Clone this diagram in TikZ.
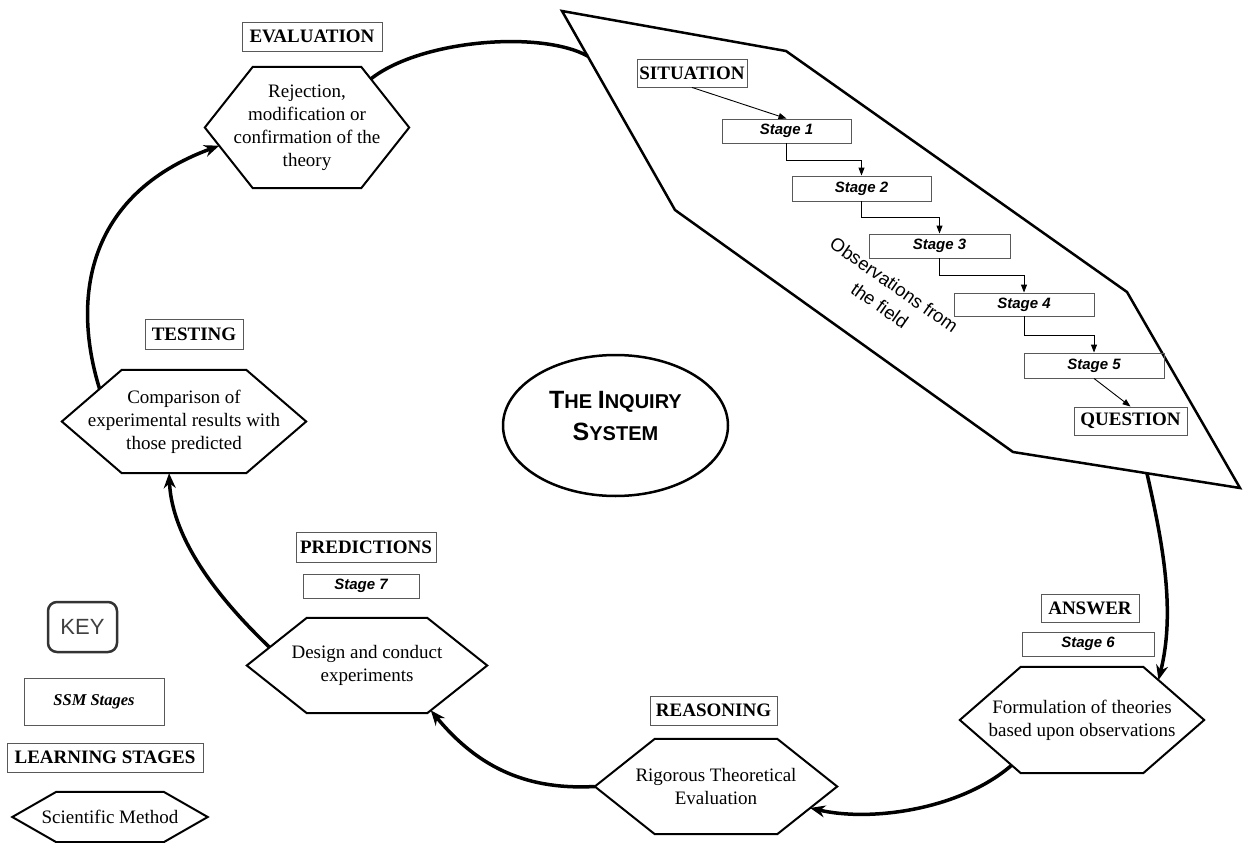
\documentclass[tikz,border=0pt]{standalone}
\usepackage{fontspec}
\setmainfont{Liberation Serif}
\newfontfamily\arialfont{Liberation Sans}
\usetikzlibrary{shapes.geometric,arrows.meta,calc}

\tikzset{
  hexbody/.style={draw=none, inner sep=0pt, align=center, font=\fontsize{19}{23}\selectfont},
  hexline/.style={line width=2pt, line join=miter},
  lbl/.style={draw=black!65, line width=0.9pt, inner sep=0pt, font=\bfseries\fontsize{19}{21}\selectfont},
  stagebox/.style={draw=black!65, line width=0.9pt, inner sep=0pt, font=\arialfont\bfseries\itshape\fontsize{15}{17}\selectfont},
  flow/.style={line width=3.5pt, -{Stealth[length=15pt,width=12pt]}},
  flowplain/.style={line width=3.5pt},
  stepline/.style={line width=0.9pt, -{Triangle[length=8pt,width=6pt]}},
  ssmline/.style={line width=2.5pt, line join=miter},
}

% hexagon: name, centre, width, height, corner inset, text
\newcommand\hexnode[6]{%
  \node[hexbody, minimum width=#3, minimum height=#4] (#1) at (#2) {#6};
  \draw[hexline] (#1.west) -- ($(#1.north west)+(#5,0)$) coordinate (#1-tl)
     -- ($(#1.north east)+(-#5,0)$) coordinate (#1-tr) -- (#1.east)
     -- ($(#1.south east)+(-#5,0)$) coordinate (#1-br)
     -- ($(#1.south west)+(#5,0)$) coordinate (#1-bl) -- cycle;}

\newcommand\capT[1]{{\fontsize{25}{32}\selectfont #1}}

\begin{document}
\begin{tikzpicture}[x=1pt, y=-1pt]
\fill[white] (0,0) rectangle (1243,843);
\useasboundingbox (0,0) rectangle (1243,843);

% soft systems stages panel
\coordinate (ssm-a) at (562,11);
\coordinate (ssm-b) at (786,51);
\coordinate (ssm-c) at (1127,292);
\coordinate (ssm-d) at (1240,488);
\coordinate (ssm-e) at (1013,452);
\coordinate (ssm-f) at (675,210);
\draw[ssmline] (ssm-a) -- (ssm-b) -- (ssm-c) -- (ssm-d) -- (ssm-e) -- (ssm-f) -- cycle;
\coordinate (ssm-in) at ($(ssm-a)!0.226!(ssm-f)$);
\coordinate (ssm-out) at ($(ssm-d)!0.41!(ssm-e)$);

\node[lbl, minimum width=110, minimum height=28] (sit) at (692,73) {SITUATION};
\node[stagebox, minimum width=129, minimum height=24] (s1) at (786.5,131) {Stage 1};
\node[stagebox, minimum width=139, minimum height=25] (s2) at (861.5,188.5) {Stage 2};
\node[stagebox, minimum width=141, minimum height=24] (s3) at (939.5,246) {Stage 3};
\node[stagebox, minimum width=140, minimum height=23] (s4) at (1024,304.5) {Stage 4};
\node[stagebox, minimum width=140, minimum height=25] (s5) at (1094,365.5) {Stage 5};
\node[lbl, minimum width=113, minimum height=28] (qu) at (1130.5,421) {QUESTION};

\draw[stepline] (sit.south) -- (s1.north);
\draw[stepline] (s1.south) -- ++(0,17) -| (s2.north);
\draw[stepline] (s2.south) -- ++(0,16) -| (s3.north);
\draw[stepline] (s3.south) -- ++(0,17) -| (s4.north);
\draw[stepline] (s4.south) -- ++(0,19) -| (s5.north);
\draw[stepline] (s5.south) -- (qu.north);

\node[rotate=-35, align=center, inner sep=0pt, font=\arialfont\fontsize{18.5}{25}\selectfont] (obs) at (887,295) {Observations from\\the field};

% scientific method cycle
\node[lbl, minimum width=140, minimum height=29] (evl) at (312,36.5) {EVALUATION};
\hexnode{ev}{307,127.5}{204}{121}{48}{Rejection,\\modification or\\confirmation of the\\theory}

\node[lbl, minimum width=98, minimum height=30] (tel) at (194,334) {TESTING};
\hexnode{te}{184,421.5}{244}{103}{60}{Comparison of\\experimental results with\\those predicted}

\node[lbl, minimum width=140, minimum height=30] (prl) at (366,547) {PREDICTIONS};
\node[stagebox, minimum width=116, minimum height=24] (s7) at (361,586) {Stage 7};
\hexnode{pr}{367,665.5}{240}{95}{60}{Design and conduct\\experiments}

\node[lbl, minimum width=127, minimum height=29] (rel) at (713.5,710.5) {REASONING};
\hexnode{re}{716,786.5}{242}{95}{60}{Rigorous Theoretical\\Evaluation}

\node[lbl, minimum width=98, minimum height=28] (anl) at (1090,608) {ANSWER};
\node[stagebox, minimum width=132, minimum height=24] (s6) at (1088,644) {Stage 6};
\hexnode{an}{1082,720}{244}{106}{61}{Formulation of theories\\based upon observations}

% centre
\node[ellipse, draw, line width=2.5pt, minimum width=225, minimum height=141, inner sep=0pt] (sys) at (615.5,425.5) {};
\node[align=center, inner sep=0pt, font=\arialfont\bfseries\fontsize{20}{32}\selectfont] (systext) at (615.5,416) {\capT{T}HE \capT{I}NQUIRY\\\capT{S}YSTEM};

% cycle connectors
\draw[flowplain] ($(ev-tr)!0.2!(ev.east)$) .. controls (420,40) and (540,30) .. (ssm-in);
\draw[flow] (ssm-out) .. controls (1162,540) and (1176,610) .. ($(an-tr)!0.25!(an.east)$);
\draw[flow] ($(an-bl)!0.15!(an.west)$) .. controls (960,810) and (870,822) .. ($(re.east)!0.45!(re-br)$);
\draw[flow] (re.west) .. controls (530,790) and (480,770) .. ($(pr-br)!0.06!(pr.east)$);
\draw[flow] ($(pr.west)!0.38!(pr-tl)$) .. controls (220,600) and (172,540) .. ($(te-bl)!0.38!(te-br)$);
\draw[flow] ($(te.west)!0.63!(te-tl)$) .. controls (72,300) and (85,195) .. ($(ev.west)!0.3!(ev-bl)$);

% key
\node[draw=black!80, line width=2.5pt, rounded corners=9pt, minimum width=69, minimum height=50, inner sep=0pt, text=black!75, font=\arialfont\fontsize{22}{22}\selectfont] (key) at (82.5,627) {KEY};
\node[draw=black!65, line width=0.9pt, minimum width=140, minimum height=47, inner sep=0pt, font=\bfseries\itshape\fontsize{16.5}{18}\selectfont] (keyssm) at (94,701.5) {SSM Stages};
\node[lbl, minimum width=196, minimum height=29] (keylearn) at (105,757.5) {LEARNING STAGES};
\hexnode{keysm}{110,817}{195}{50}{44}{Scientific Method}
\end{tikzpicture}
\end{document}
